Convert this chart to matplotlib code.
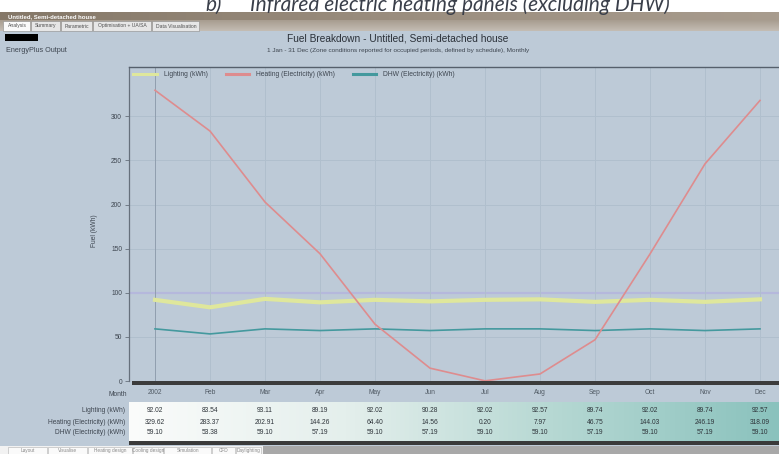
import matplotlib.pyplot as plt
import matplotlib.transforms as mtransforms
import numpy as np
from matplotlib.colors import LinearSegmentedColormap
from matplotlib.patches import Rectangle

plt.rcParams['font.family'] = ['Liberation Sans', 'DejaVu Sans']

months = ['2002', 'Feb', 'Mar', 'Apr', 'May', 'Jun', 'Jul', 'Aug', 'Sep', 'Oct', 'Nov', 'Dec']
lighting = [92.02, 83.54, 93.11, 89.19, 92.02, 90.28, 92.02, 92.57, 89.74, 92.02, 89.74, 92.57]
heating = [329.62, 283.37, 202.91, 144.26, 64.40, 14.56, 0.20, 7.97, 46.75, 144.03, 246.19, 318.09]
dhw = [59.10, 53.38, 59.10, 57.19, 59.10, 57.19, 59.10, 59.10, 57.19, 59.10, 57.19, 59.10]
series_names = ['Lighting (kWh)', 'Heating (Electricity) (kWh)', 'DHW (Electricity) (kWh)']
yticks = [0, 50, 100, 150, 200, 250, 300]
top_tabs = ['Analysis', 'Summary', 'Parametric', 'Optimisation + UA/SA', 'Data Visualisation']
bottom_tabs = ['Layout', 'Visualise', 'Heating design', 'Cooling design', 'Simulation', 'CFD', 'Daylighting']

PANEL = '#bdcad7'
GRID = '#b0bfcd'
TXT = '#3e4650'
W, H = 779, 454


def box(x0, y0, x1, y1):
    # pixel box (top-left origin) -> figure fraction rect
    return [x0 / W, 1 - y1 / H, (x1 - x0) / W, (y1 - y0) / H]


def fig_rect(fig, x0, y0, x1, y1, zorder=-5, **kw):
    r = Rectangle((x0 / W, 1 - y1 / H), (x1 - x0) / W, (y1 - y0) / H,
                  transform=fig.transFigure, zorder=zorder, **kw)
    fig.add_artist(r)
    return r


def gradient_axes(fig, rect, colors, vertical=False):
    gax = fig.add_axes(box(*rect), zorder=-2)
    cmap = LinearSegmentedColormap.from_list('g', colors)
    g = np.linspace(0, 1, 256)
    g = g[:, None] if vertical else g[None, :]
    gax.imshow(g, cmap=cmap, aspect='auto', extent=(0, 1, 0, 1), origin='upper')
    gax.set_axis_off()
    return gax


fig = plt.figure(figsize=(W / 100, H / 100), dpi=100, facecolor='white')

# window chrome (heading is cropped at the top in the screenshot)
head_kw = dict(fontsize=15, style='italic', color='#3a3f4a', va='baseline', ha='left',
               family=['Lato', 'DejaVu Sans'])
fig.text(205 / W, 1 - 11 / H, 'b)', **head_kw)
fig.text(250 / W, 1 - 11 / H, 'Infrared electric heating panels (excluding DHW)', **head_kw)

gradient_axes(fig, (0, 12, W, 20), ['#857868', '#9a8d7e', '#a89c8e'])
gradient_axes(fig, (0, 20, W, 31), ['#a79c8f', '#c4bdb4'], vertical=True)
fig.text(8 / W, 1 - 16.5 / H, 'Untitled, Semi-detached house', fontsize=4.3,
         color='white', weight='bold', va='center')

tab_x = [3, 31, 61, 93, 152, 200]
for i, name in enumerate(top_tabs):
    fc = '#fafafa' if i == 0 else '#e6e6e6'
    fig_rect(fig, tab_x[i], 21, tab_x[i + 1] - 1, 31, zorder=1, facecolor=fc,
             edgecolor='#8a8a8a', lw=0.4)
    fig.text((tab_x[i] + tab_x[i + 1]) / 2 / W, 1 - 26 / H, name, fontsize=3.6,
             color='#505050', ha='center', va='center')

fig_rect(fig, 0, 31, W, 446, facecolor=PANEL, edgecolor='none')
fig_rect(fig, 5, 34, 38, 41, zorder=1, facecolor='black', edgecolor='none')
fig.text(6 / W, 1 - 51 / H, 'EnergyPlus Output', fontsize=5.2, color=TXT, va='center')
fig.text(398 / W, 1 - 38.5 / H, 'Fuel Breakdown - Untitled, Semi-detached house',
         fontsize=7.3, color='#2a3038', ha='center', va='center')
fig.text(398 / W, 1 - 50.5 / H,
         '1 Jan - 31 Dec (Zone conditions reported for occupied periods, defined by schedule), Monthly',
         fontsize=4.6, color=TXT, ha='center', va='center')

# main chart
ax = fig.add_axes(box(129, 67, W, 381))
ax.set_facecolor(PANEL)
x = np.arange(len(months))
ax.set_xlim((129 - 155) / 55, (W - 155) / 55)
ax.set_ylim(0, 356)

for yv in yticks[1:]:
    ax.axhline(yv, color=GRID, lw=0.7, zorder=1)
ax.axhline(100, color='#b5b8dc', lw=1.6, zorder=1)
for xv in x:
    ax.axvline(xv, color='#909eae' if xv == 0 else GRID, lw=0.7, zorder=1)

ax.plot(x, lighting, color='#dfe79c', lw=3.0, label=series_names[0], zorder=3)
ax.plot(x, heating, color='#de8c8e', lw=1.2, label=series_names[1], zorder=4)
ax.plot(x, dhw, color='#44999e', lw=1.2, label=series_names[2], zorder=3)

for side in ['right', 'bottom']:
    ax.spines[side].set_visible(False)
ax.spines['left'].set_color('#66707c')
ax.spines['left'].set_linewidth(0.9)
ax.spines['top'].set_color('#56606c')
ax.spines['top'].set_linewidth(1.0)
ax.set_yticks(yticks)
ax.set_xticks([])
ax.tick_params(axis='y', length=3, width=0.6, color='#66707c', labelsize=4.8,
               labelcolor=TXT, pad=2)
ax.set_ylabel('Fuel (kWh)', fontsize=4.8, color=TXT)
ax.yaxis.set_label_coords((98 - 129) / (W - 129), 0.48)

leg = ax.legend(loc='upper left', bbox_to_anchor=(0.0, 1.0), ncol=3, frameon=False,
                fontsize=4.9, handlelength=3.4, handletextpad=1.1, columnspacing=2.6,
                borderaxespad=0.25, labelcolor=TXT)
for line in leg.get_lines():
    line.set_linewidth(2.2)

# thick axis bar under the plot
fig_rect(fig, 132, 381, W, 385, zorder=2, facecolor='#3c3c3c', edgecolor='none')

trans = mtransforms.blended_transform_factory(ax.transData, fig.transFigure)
for xi, m in zip(x, months):
    ax.text(xi, 1 - 392 / H, m, transform=trans, fontsize=4.8, color='#505a64',
            ha='center', va='center', clip_on=False)
fig.text(127 / W, 1 - 394 / H, 'Month', fontsize=4.8, color=TXT, ha='right', va='center')

# data table
gradient_axes(fig, (129, 402, W, 441), ['#fbfcfb', '#e4efec', '#b4d7d2', '#8ac2bd'])
fig_rect(fig, 129, 441, W, 445, zorder=2, facecolor='#3a3a3a', edgecolor='none')
row_y = [411, 422, 432]
for ry, name, vals in zip(row_y, series_names, [lighting, heating, dhw]):
    fig.text(125 / W, 1 - ry / H, name, fontsize=4.8, color=TXT, ha='right', va='center')
    for xi, v in zip(x, vals):
        ax.text(xi, 1 - ry / H, f'{v:.2f}', transform=trans, fontsize=4.8,
                color='#2e343a', ha='center', va='center', clip_on=False)

# bottom tab strip
fig_rect(fig, 0, 446, W, H, facecolor='#f2f2f2', edgecolor='none')
fig_rect(fig, 263, 446, W, H, facecolor='#a8a8a8', edgecolor='none')
btab_x = [8, 48, 88, 133, 164, 212, 236, 262]
for i, name in enumerate(bottom_tabs):
    fig_rect(fig, btab_x[i], 447, btab_x[i + 1] - 1, H, zorder=1, facecolor='#fafafa',
             edgecolor='#b0b0b0', lw=0.4)
    fig.text((btab_x[i] + btab_x[i + 1]) / 2 / W, 1 - 450.5 / H, name, fontsize=3.4,
             color='#8a8a8a', ha='center', va='center')

fig.savefig('out.png', dpi=100, facecolor='white')
